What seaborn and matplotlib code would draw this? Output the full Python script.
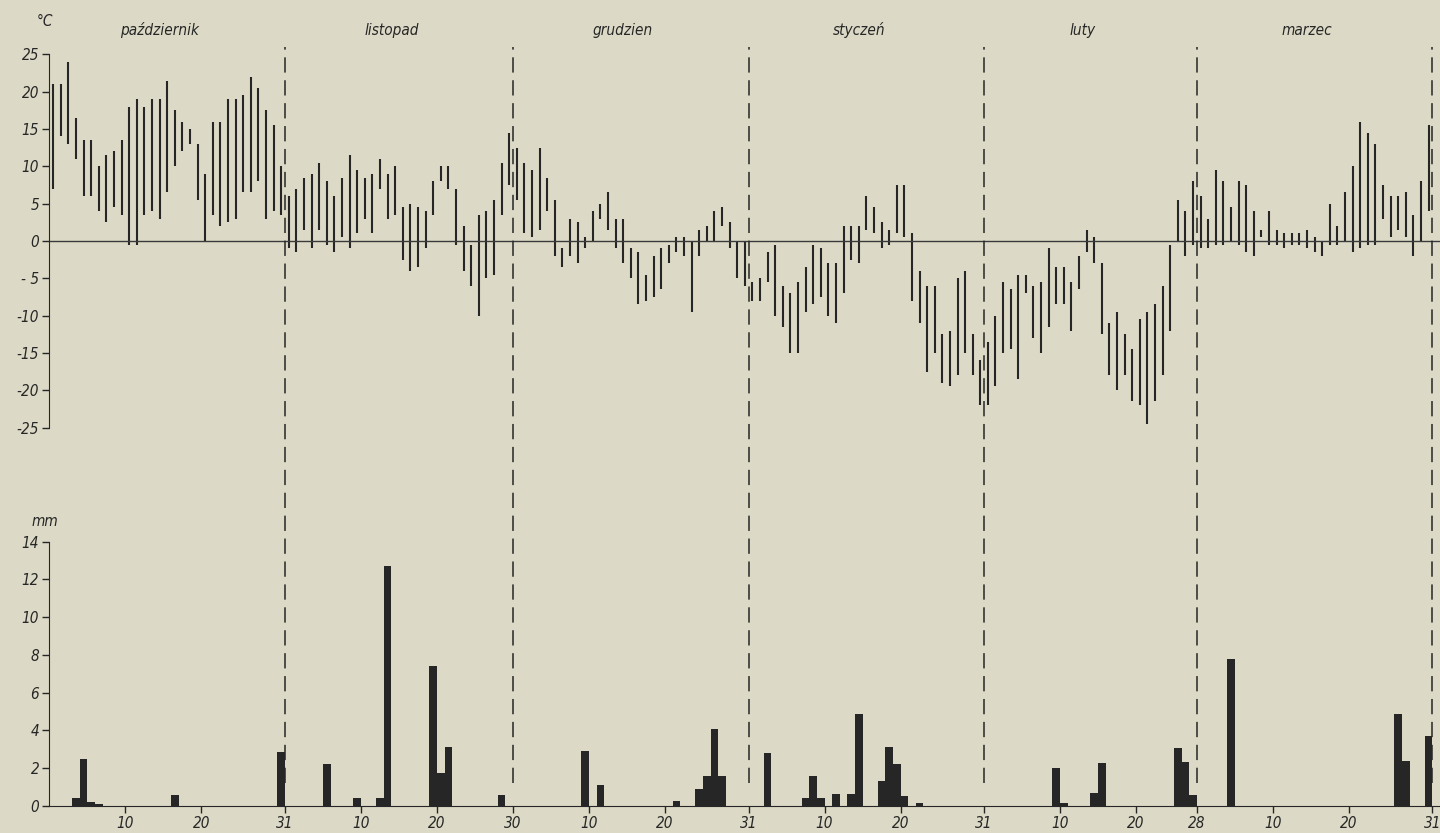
import numpy as np
import pandas as pd
import matplotlib
matplotlib.use("Agg")
import matplotlib.pyplot as plt
import seaborn as sns

# month names and lengths (October - March)
months = ["październik", "listopad", "grudzien", "styczeń", "luty", "marzec"]
month_len = [31, 30, 31, 31, 28, 31]
month_end_label = ["31", "30", "31", "31", "28", "31"]

# daily max / min temperature, degC
tmax_oct = [21, 21, 24, 16.5, 13.5, 13.5, 10, 11.5, 12, 13.5, 18, 19, 18, 19, 19, 21.5,
            17.5, 16, 15, 13, 9, 16, 16, 19, 19, 19.5, 22, 20.5, 17.5, 15.5, 10]
tmin_oct = [7, 14, 13, 11, 6, 6, 4, 2.5, 4.5, 3.5, -0.5, -0.5, 3.5, 4, 3, 6.5,
            10, 12, 13, 5.5, 0, 3.5, 2, 2.5, 3, 6.5, 6.5, 8, 3, 4, 3.5]
tmax_nov = [6, 7, 8.5, 9, 10.5, 8, 6, 8.5, 11.5, 9.5, 8.5, 9, 11, 9, 10,
            4.5, 5, 4.5, 4, 8, 10, 10, 7, 2, -0.5, 3.5, 4, 5.5, 10.5, 14.5]
tmin_nov = [-1, -1.5, 1.5, -1, 1.5, -0.5, -1.5, 0.5, -1, 1, 3, 1, 7, 3, 3.5,
            -2.5, -4, -3.5, -1, 3.5, 8, 7, -0.5, -4, -6, -10, -5, -4.5, 3.5, 7.5]
tmax_dec = [12.5, 10.5, 9.5, 12.5, 8.5, 5.5, -1, 3, 2.5, 0.5, 4, 5, 6.5, 3, 3, -1,
            -1.5, -4.5, -2, -1, -0.5, 0.5, 0.5, 0, 1.5, 2, 4, 4.5, 2.5, 0, 0]
tmin_dec = [5.5, 1, 0.5, 1.5, 4, -2, -3.5, -2, -3, -1, 0, 3, 1.5, -1, -3, -5,
            -8.5, -8, -7.5, -6.5, -3, -1.5, -2, -9.5, -2, 0, 0, 2, -1, -5, -6]
tmax_jan = [-5.5, -5, -1.5, -0.5, -6, -7, -5.5, -3.5, -0.5, -1, -3, -3, 2, 2, 2, 6,
            4.5, 2.5, 1.5, 7.5, 7.5, 1, -4, -6, -6, -12.5, -12, -5, -4, -12.5, -16]
tmin_jan = [-8, -8, -5.5, -10, -11.5, -15, -15, -9.5, -8.5, -7.5, -10, -11, -7, -2.5, -3, 1.5,
            1, -1, -0.5, 1, 0.5, -8, -11, -17.5, -15, -19, -19.5, -18, -15, -18, -22]
tmax_feb = [-13.5, -10, -5.5, -6.5, -4.5, -4.5, -6, -5.5, -1, -3.5, -3.5, -5.5, -2, 1.5,
            0.5, -3, -11, -9.5, -12.5, -14.5, -10.5, -9.5, -8.5, -6, -0.5, 5.5, 4, 8]
tmin_feb = [-22, -19.5, -15, -14.5, -18.5, -7, -13, -15, -11.5, -8.5, -8.5, -12, -6.5, -1.5,
            -3, -12.5, -18, -20, -18, -21.5, -22, -24.5, -21.5, -18, -12, 0, -2, -0.5]
tmax_mar = [6, 3, 9.5, 8, 4.5, 8, 7.5, 4, 1.5, 4, 1.5, 1, 1, 1, 1.5, 0.5,
            0, 5, 2, 6.5, 10, 16, 14.5, 13, 7.5, 6, 6, 6.5, 3.5, 8, 15.5]
tmin_mar = [-1, -1, -0.5, -0.5, 0, -0.5, -1.5, -2, 0.5, -0.5, -0.5, -1, -0.5, -0.5, -1, -1.5,
            -2, -0.5, -0.5, 0, -1.5, -1, -0.5, -0.5, 3, 0.5, 1.5, 0.5, -2, 0, 4]

# precipitation, mm (day of month: amount)
rain_oct = {4: 0.4, 5: 2.5, 6: 0.2, 7: 0.1, 17: 0.6, 31: 2.85}
rain_nov = {6: 2.25, 10: 0.45, 13: 0.4, 14: 12.7, 20: 7.4, 21: 1.75, 22: 3.1, 29: 0.6}
rain_dec = {10: 2.9, 12: 1.1, 22: 0.25, 25: 0.9, 26: 1.6, 27: 4.1, 28: 1.6}
rain_jan = {3: 2.8, 8: 0.45, 9: 1.6, 10: 0.45, 12: 0.65, 14: 0.65, 15: 4.85,
            18: 1.35, 19: 3.1, 20: 2.2, 21: 0.55, 23: 0.15}
rain_feb = {10: 2.0, 11: 0.15, 15: 0.7, 16: 2.3, 26: 3.05, 27: 2.35, 28: 0.6}
rain_mar = {5: 7.8, 27: 4.85, 28: 2.4, 31: 3.7}

tmax_all = [tmax_oct, tmax_nov, tmax_dec, tmax_jan, tmax_feb, tmax_mar]
tmin_all = [tmin_oct, tmin_nov, tmin_dec, tmin_jan, tmin_feb, tmin_mar]
rain_all = [rain_oct, rain_nov, rain_dec, rain_jan, rain_feb, rain_mar]

rows = []
offset = 0
for m, L in enumerate(month_len):
    for d in range(1, L + 1):
        rows.append({"n": offset + d, "month": months[m], "day": d,
                     "tmax": tmax_all[m][d - 1], "tmin": tmin_all[m][d - 1],
                     "rain": rain_all[m].get(d, 0.0)})
    offset += L
df = pd.DataFrame(rows)
ends = np.cumsum(month_len)
starts = ends - np.array(month_len)

paper = "#dcdac6"
ink = "#262626"

sns.set_style("ticks")
plt.rcParams["font.family"] = ["DejaVu Sans"]
plt.rcParams["font.style"] = "italic"
plt.rcParams["font.stretch"] = "condensed"

fig = plt.figure(figsize=(14.4, 8.33), dpi=100, facecolor=paper)
ax = fig.add_axes([0.034, 0.4778, 0.966, 0.4802], facecolor=paper)
ax2 = fig.add_axes([0.034, 0.0324, 0.966, 0.3354], facecolor=paper)
xlim = (0.43, 183.5)

# temperature panel
ax.vlines(df["n"], df["tmin"], df["tmax"], color=ink, lw=1.5)
ax.axhline(0, color="#3a3a3a", lw=1.0)
ax.set_xlim(*xlim)
ax.set_ylim(-26.0, 27.6)
yt = list(range(25, -30, -5))
ax.set_yticks(yt)
ax.set_yticklabels([str(v) if v >= 0 else ("- 5" if v == -5 else str(v)) for v in yt],
                   fontsize=11, color=ink)
ax.set_xticks([])
for s in ["top", "right", "bottom"]:
    ax.spines[s].set_visible(False)
ax.spines["left"].set_bounds(-25, 25)
ax.spines["left"].set_color(ink)
ax.tick_params(axis="y", length=5, width=1, color=ink, pad=2)
for m in range(6):
    ax.text(starts[m] + month_len[m] / 2.0 - 0.5, 27.2, months[m], ha="center", va="bottom",
            fontsize=11, color=ink, clip_on=False)
fig.text(45 / 1440, 1 - 22 / 833, "°C", ha="center", va="center", fontsize=11, color=ink)

# precipitation panel
sns.barplot(data=df, x="n", y="rain", native_scale=True, width=1.0, color=ink,
            saturation=1, errorbar=None, linewidth=0, ax=ax2, zorder=3)
ax2.set_xlim(*xlim)
ax2.set_ylim(0, 14.79)
ax2.set_yticks(range(0, 15, 2))
ax2.set_yticklabels([str(v) for v in range(0, 15, 2)], fontsize=11, color=ink)
xt, xl = [], []
for m in range(6):
    xt += [starts[m] + 10.5, starts[m] + 20.5, ends[m] + 0.5]
    xl += ["10", "20", month_end_label[m]]
ax2.set_xticks(xt)
ax2.set_xticklabels(xl, fontsize=11, color=ink)
ax2.set_xlabel("")
ax2.set_ylabel("")
for s in ["top", "right"]:
    ax2.spines[s].set_visible(False)
ax2.spines["left"].set_bounds(0, 14)
ax2.spines["left"].set_color(ink)
ax2.spines["bottom"].set_color(ink)
ax2.tick_params(axis="both", length=5, width=1, color=ink, pad=2)
fig.text(45 / 1440, 1 - 522 / 833, "mm", ha="center", va="center", fontsize=11, color=ink)

# dashed month boundaries through both panels
ax2.vlines(ends + 0.5, 1.2, 40.2, colors=ink, linestyles=(0, (10, 5)), lw=1.1,
           clip_on=False, zorder=1)

fig.savefig("out.png", dpi=100, facecolor=paper)
